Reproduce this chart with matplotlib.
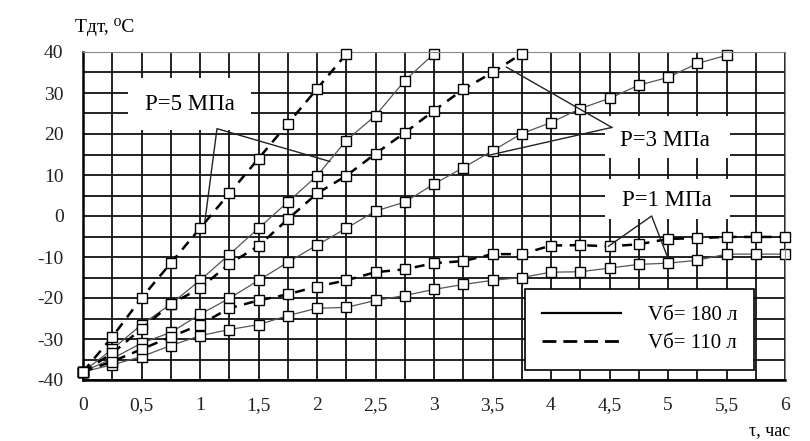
import matplotlib
matplotlib.use("Agg")
import matplotlib.pyplot as plt
from matplotlib.lines import Line2D
from matplotlib.patches import Rectangle
import numpy as np

# time points, hours
tau = [0, 0.25, 0.5, 0.75, 1.0, 1.25, 1.5, 1.75, 2.0, 2.25, 2.5, 2.75, 3.0,
       3.25, 3.5, 3.75, 4.0, 4.25, 4.5, 4.75, 5.0, 5.25, 5.5, 5.75, 6.0]

# temperature, deg C
p5_v110 = [-38, -29.5, -20, -11.5, -3, 5.5, 14, 22.5, 31, 39.5]
p5_v180 = [-38, -32.5, -26.5, -21.5, -15.7, -9.4, -3, 3.4, 9.8, 18.4, 24.5,
           33, 39.6]
p3_v110 = [-38, -33.5, -27.5, -21.5, -17.6, -11.7, -7.3, -0.8, 5.5, 9.8,
           15.2, 20.3, 25.7, 30.9, 35, 39.6]
p3_v180 = [-38, -34.8, -31, -28.4, -24, -20.1, -15.7, -11.3, -7.1, -3, 1.2,
           3.4, 7.8, 11.8, 15.9, 20.1, 22.8, 26.2, 28.7, 31.9, 33.8, 37.2, 39.2]
p1_v110 = [-38, -35.5, -32.5, -29.5, -26.5, -22.5, -20.6, -19.1, -17.2, -15.7,
           -13.7, -13, -11.5, -11, -9.3, -9.3, -7.2, -7.1, -7.4, -6.9, -5.6,
           -5.4, -5.1, -5.1, -5.1]
p1_v180 = [-38, -36.3, -34.3, -31.6, -29.2, -27.7, -26.5, -24.3, -22.5, -22.3,
           -20.6, -19.4, -17.9, -16.7, -15.7, -15, -13.7, -13.6, -12.7, -11.8,
           -11.5, -10.8, -9.3, -9.3, -9.3]

x_tick_labels = ["0", "0,5", "1", "1,5", "2", "2,5", "3", "3,5", "4", "4,5",
                 "5", "5,5", "6"]
y_tick_labels = ["-40", "-30", "-20", "-10", "0", "10", "20", "30", "40"]
legend_labels = ["Vб= 180 л", "Vб= 110 л"]

SERIF = ["Liberation Serif", "DejaVu Serif"]
plt.rcParams["font.family"] = SERIF
plt.rcParams["axes.unicode_minus"] = False

W, H = 810, 441
fig = plt.figure(figsize=(W / 100, H / 100), dpi=100)
fig.patch.set_facecolor("white")
ax = fig.add_axes([83 / W, (H - 380) / H, (785 - 83) / W, (380 - 52) / H])

ax.set_xlim(0, 6)
ax.set_ylim(-40, 40)
ax.set_xticks(np.arange(0, 6.01, 0.5))
ax.set_xticks(np.arange(0.25, 6, 0.5), minor=True)
ax.set_xticklabels(x_tick_labels)
ax.set_yticks(np.arange(-40, 41, 10))
ax.set_yticks(np.arange(-35, 40, 10), minor=True)
ax.set_yticklabels(y_tick_labels)
ax.tick_params(which="both", length=0)
ax.tick_params(axis="y", pad=14, labelsize=14, labelcolor="#222222")
ax.tick_params(axis="x", pad=12, labelsize=14, labelcolor="#222222")

ax.set_axisbelow(True)
ax.grid(True, which="both", color="#111111", linewidth=1.3)
for side in ("left", "bottom"):
    ax.spines[side].set_linewidth(1.8)
for side in ("top", "right"):
    ax.spines[side].set_linewidth(0.8)
    ax.spines[side].set_color("#888888")

# white patches behind the pressure labels hide the grid
for x0, y0, w, h in [(0.385, 20.9, 1.055, 12.7),
                     (4.46, 14.2, 1.07, 10.3),
                     (4.46, -0.7, 1.07, 9.7)]:
    ax.add_patch(Rectangle((x0, y0), w, h, facecolor="white",
                           edgecolor="none", zorder=1))

marker_kw = dict(marker="s", markersize=6.5, markerfacecolor="white",
                 markeredgecolor="black", markeredgewidth=1.0, clip_on=False)
dash_kw = dict(color="black", linewidth=1.8, dashes=(4, 3))
solid_kw = dict(color="#555555", linewidth=0.9)

for vals in (p5_v180, p3_v180, p1_v180):
    ax.plot(tau[:len(vals)], vals, zorder=2, **solid_kw, **marker_kw)
for vals in (p5_v110, p3_v110, p1_v110):
    ax.plot(tau[:len(vals)], vals, zorder=3, **dash_kw, **marker_kw)

# leader lines from labels to curves
lead_kw = dict(color="#222222", linewidth=1.0, zorder=4)
ax.plot([1.04, 1.145, 2.11], [-1.7, 21.3, 13.3], **lead_kw)
ax.plot([3.62, 4.52], [36.3, 21.6], **lead_kw)
ax.plot([3.45, 4.52], [14.7, 21.6], **lead_kw)
ax.plot([4.49, 4.86, 5.0], [-7.4, 0.0, -10.3], **lead_kw)

ax.text(0.915, 27.2, "P=5 МПа", fontsize=16.5, ha="center", va="center",
        zorder=5)
ax.text(4.97, 18.4, "P=3 МПа", fontsize=16.5, ha="center", va="center",
        zorder=5)
ax.text(4.99, 3.7, "P=1 МПа", fontsize=16.5, ha="center", va="center",
        zorder=5)

handles = [Line2D([], [], color="black", linewidth=1.6),
           Line2D([], [], color="black", linewidth=2.0, dashes=(5, 2.5))]
leg = ax.legend(handles, legend_labels, loc="lower right",
                bbox_to_anchor=(0.956, 0.0305), borderaxespad=0,
                fontsize=15, handlelength=3.8, handletextpad=1.3,
                borderpad=0.8, labelspacing=0.4, fancybox=False,
                framealpha=1, edgecolor="black")
leg.get_frame().set_linewidth(1.2)
leg.set_zorder(6)

fig.text(75 / W, 1 - 27 / H, "Tдт, ⁰C", fontsize=14, ha="left",
         va="center")
fig.text(790 / W, 1 - 431 / H, "τ, час", fontsize=13, ha="right",
         va="center")

fig.savefig("out.png", dpi=100)
